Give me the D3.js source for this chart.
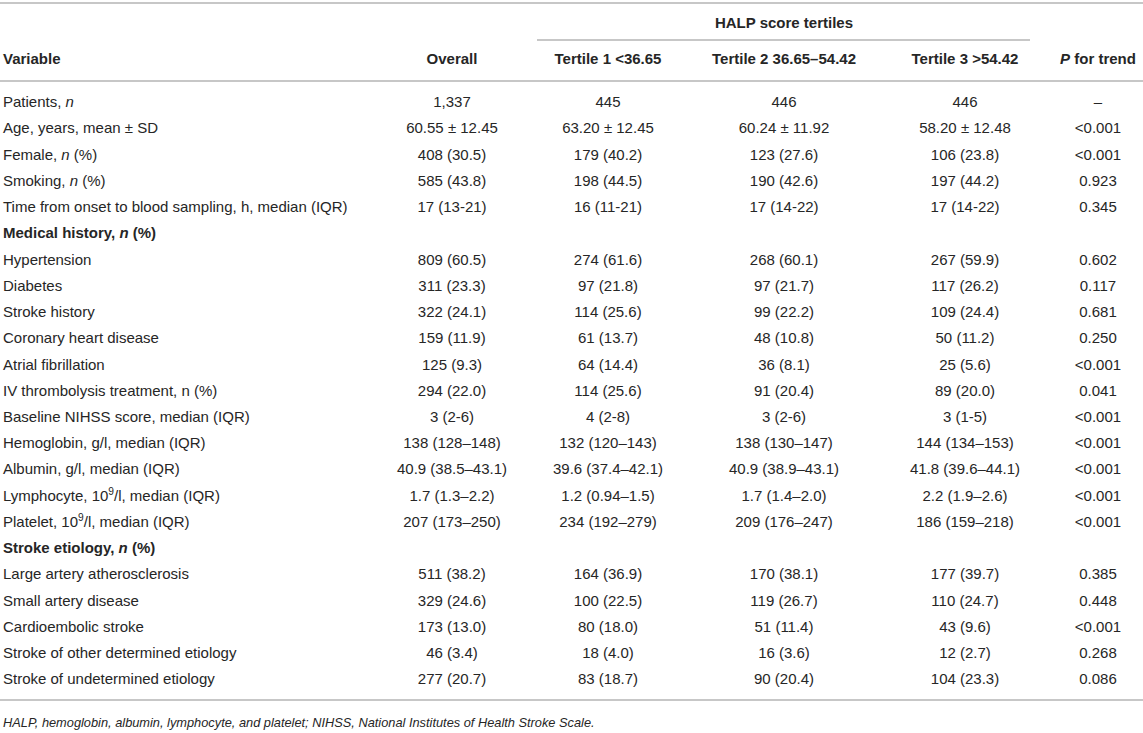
<!DOCTYPE html>
<html>
<head>
<meta charset="utf-8">
<script src="https://cdn.jsdelivr.net/npm/d3@7/dist/d3.min.js"></script>
<style>
  html, body { margin: 0; padding: 0; background: #fff; }
  svg { display: block; font-family: "Liberation Sans", Arial, Helvetica, sans-serif; }
</style>
</head>
<body>
<svg id="chart" width="1143" height="733"></svg>
<script>
// ---- data ----
const groupTitle = "HALP score tertiles";
const columnHeaders = ["Variable", "Overall", "Tertile 1 <36.65", "Tertile 2 36.65–54.42", "Tertile 3 >54.42", "*P* for trend"];
const variables = [
  "Patients, *n*",
  "Age, years, mean ± SD",
  "Female, *n* (%)",
  "Smoking, *n* (%)",
  "Time from onset to blood sampling, h, median (IQR)",
  "Medical history, *n* (%)",
  "Hypertension",
  "Diabetes",
  "Stroke history",
  "Coronary heart disease",
  "Atrial fibrillation",
  "IV thrombolysis treatment, n (%)",
  "Baseline NIHSS score, median (IQR)",
  "Hemoglobin, g/l, median (IQR)",
  "Albumin, g/l, median (IQR)",
  "Lymphocyte, 10^9^/l, median (IQR)",
  "Platelet, 10^9^/l, median (IQR)",
  "Stroke etiology, *n* (%)",
  "Large artery atherosclerosis",
  "Small artery disease",
  "Cardioembolic stroke",
  "Stroke of other determined etiology",
  "Stroke of undetermined etiology"
];
const sectionRows = ["Medical history, *n* (%)", "Stroke etiology, *n* (%)"];
const overall = ["1,337","60.55 ± 12.45","408 (30.5)","585 (43.8)","17 (13-21)","",
  "809 (60.5)","311 (23.3)","322 (24.1)","159 (11.9)","125 (9.3)","294 (22.0)","3 (2-6)",
  "138 (128–148)","40.9 (38.5–43.1)","1.7 (1.3–2.2)","207 (173–250)","",
  "511 (38.2)","329 (24.6)","173 (13.0)","46 (3.4)","277 (20.7)"];
const tertile1 = ["445","63.20 ± 12.45","179 (40.2)","198 (44.5)","16 (11-21)","",
  "274 (61.6)","97 (21.8)","114 (25.6)","61 (13.7)","64 (14.4)","114 (25.6)","4 (2-8)",
  "132 (120–143)","39.6 (37.4–42.1)","1.2 (0.94–1.5)","234 (192–279)","",
  "164 (36.9)","100 (22.5)","80 (18.0)","18 (4.0)","83 (18.7)"];
const tertile2 = ["446","60.24 ± 11.92","123 (27.6)","190 (42.6)","17 (14-22)","",
  "268 (60.1)","97 (21.7)","99 (22.2)","48 (10.8)","36 (8.1)","91 (20.4)","3 (2-6)",
  "138 (130–147)","40.9 (38.9–43.1)","1.7 (1.4–2.0)","209 (176–247)","",
  "170 (38.1)","119 (26.7)","51 (11.4)","16 (3.6)","90 (20.4)"];
const tertile3 = ["446","58.20 ± 12.48","106 (23.8)","197 (44.2)","17 (14-22)","",
  "267 (59.9)","117 (26.2)","109 (24.4)","50 (11.2)","25 (5.6)","89 (20.0)","3 (1-5)",
  "144 (134–153)","41.8 (39.6–44.1)","2.2 (1.9–2.6)","186 (159–218)","",
  "177 (39.7)","110 (24.7)","43 (9.6)","12 (2.7)","104 (23.3)"];
const pTrend = ["–","<0.001","<0.001","0.923","0.345","",
  "0.602","0.117","0.681","0.250","<0.001","0.041","<0.001",
  "<0.001","<0.001","<0.001","<0.001","",
  "0.385","0.448","<0.001","0.268","0.086"];
const footnote = "HALP, hemoglobin, albumin, lymphocyte, and platelet; NIHSS, National Institutes of Health Stroke Scale.";

// ---- layout ----
const W = 1143;
const svg = d3.select("#chart");
const textColor = "#262626";
const ruleColor = "#b5b5b5";
const fs = 15;

const colKeys = ["variable","overall","t1","t2","t3","p"];
const xCol = d3.scaleOrdinal().domain(colKeys).range([3, 452, 608, 784, 965, 1098]);
const y = d3.scalePoint().domain(d3.range(variables.length)).range([102, 679]);

function rich(sel, str) {
  const parts = str.split(/(\*[^*]+\*|\^[^^]+\^)/).filter(s => s.length);
  let pendingDy = 0;
  parts.forEach(p => {
    let ts;
    if (p.startsWith("*")) {
      ts = sel.append("tspan").attr("font-style", "italic").text(p.slice(1, -1));
    } else if (p.startsWith("^")) {
      ts = sel.append("tspan").attr("font-size", fs * 0.68).attr("dy", pendingDy - 6).text(p.slice(1, -1));
      pendingDy = 6;
      return;
    } else {
      ts = sel.append("tspan").text(p);
    }
    if (pendingDy) { ts.attr("dy", pendingDy); pendingDy = 0; }
  });
}

// rules
function rule(x1, x2, yy) {
  svg.append("line").attr("x1", x1).attr("x2", x2).attr("y1", yy).attr("y2", yy)
    .attr("stroke", ruleColor).attr("stroke-width", 1.5);
}
rule(0, W, 3);
rule(537, 1030, 40);
rule(0, W, 81);
rule(0, W, 700);

// group title
svg.append("text").attr("x", 784).attr("y", 23).attr("dy", "0.35em")
  .attr("text-anchor", "middle").attr("font-size", fs).attr("font-weight", "bold")
  .attr("fill", textColor).text(groupTitle);

// column headers
columnHeaders.forEach((h, i) => {
  const t = svg.append("text").attr("x", xCol(colKeys[i])).attr("y", 59).attr("dy", "0.35em")
    .attr("text-anchor", i === 0 ? "start" : "middle")
    .attr("font-size", fs).attr("font-weight", "bold").attr("fill", textColor);
  rich(t, h);
});

// body rows
const columns = [overall, tertile1, tertile2, tertile3, pTrend];
variables.forEach((v, r) => {
  const isSection = sectionRows.includes(v);
  const t = svg.append("text").attr("x", xCol("variable")).attr("y", y(r)).attr("dy", "0.35em")
    .attr("font-size", fs).attr("fill", textColor)
    .attr("font-weight", isSection ? "bold" : "normal");
  rich(t, v);
  columns.forEach((col, c) => {
    if (!col[r]) return;
    svg.append("text").attr("x", xCol(colKeys[c + 1])).attr("y", y(r)).attr("dy", "0.35em")
      .attr("text-anchor", "middle").attr("font-size", fs).attr("fill", textColor)
      .text(col[r]);
  });
});

// footnote
svg.append("text").attr("x", 3).attr("y", 723).attr("dy", "0.35em")
  .attr("font-size", 12.8).attr("font-style", "italic").attr("fill", textColor)
  .text(footnote);
</script>
</body>
</html>
